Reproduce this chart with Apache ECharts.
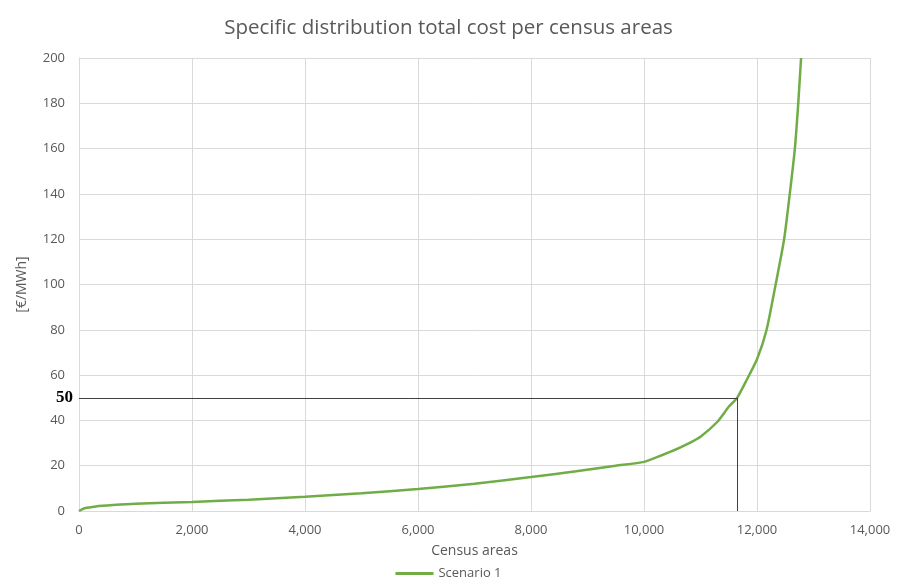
<!DOCTYPE html>
<html><head><meta charset="utf-8">
<script src="https://cdn.jsdelivr.net/npm/echarts@6/dist/echarts.min.js"></script>
<style>html,body{margin:0;padding:0;background:#fff}#c{width:897px;height:585px}</style>
</head><body><div id="c"></div>
<script>
const titleText = 'Specific distribution total cost per census areas';
const seriesName = 'Scenario 1';
const xAxisName = 'Census areas';
const yAxisName = '[€/MWh]';
const censusAreas = [0,100,300,600,1000,2000,3000,4000,5000,6000,7000,8000,8800,9500,10000,10500,10800,11000,11300,11500,11650,11800,12000,12170,12330,12480,12580,12670,12730,12780];
const costValues  = [0,1.2,2.0,2.6,3.2,4.0,5.0,6.3,7.8,9.7,12.0,15.0,17.5,20.0,21.7,26.5,30.0,32.8,39.4,46.0,50.0,57.0,67.0,80.0,100.0,120.0,140.0,160.0,180.0,200.0];
const thresholdCost = 50;
const thresholdArea = 11650;

const chart = echarts.init(document.getElementById('c'));
const font = 'Open Sans';
chart.setOption({
  animation:false,
  title:{text:titleText,left:'center',top:13,textStyle:{fontFamily:font,fontSize:20.5,fontWeight:'normal',color:'#595959'}},
  grid:{left:79,right:27,top:58,bottom:74},
  legend:{bottom:0,left:'center',itemWidth:38,itemHeight:3,icon:'rect',textStyle:{fontFamily:font,fontSize:13,color:'#595959'},data:[seriesName]},
  xAxis:{type:'value',min:0,max:14000,interval:2000,name:xAxisName,nameLocation:'middle',nameGap:33,
    nameTextStyle:{fontFamily:font,fontSize:14,color:'#595959'},
    axisLine:{lineStyle:{color:'#d9d9d9'}},axisTick:{show:false},
    axisLabel:{fontFamily:font,fontSize:13,color:'#595959',margin:13,formatter:v=>v.toLocaleString('en-US')},
    splitLine:{show:true,lineStyle:{color:'#d9d9d9'}}},
  yAxis:{type:'value',min:0,max:200,interval:20,name:yAxisName,nameLocation:'middle',nameGap:50,
    nameTextStyle:{fontFamily:font,fontSize:14,color:'#595959'},
    axisLine:{show:true,lineStyle:{color:'#d9d9d9'}},axisTick:{show:false},
    axisLabel:{fontFamily:font,fontSize:13,color:'#595959',margin:14},
    splitLine:{show:true,lineStyle:{color:'#d9d9d9'}}},
  series:[{name:seriesName,type:'line',smooth:0.2,showSymbol:false,
    data:censusAreas.map((x,i)=>[x,costValues[i]]),
    lineStyle:{color:'#70ad47',width:2.5},itemStyle:{color:'#70ad47'},
    markLine:{silent:true,symbol:'none',
      lineStyle:{color:'#404040',width:1,type:'solid'},
      data:[
        [{coord:[0,thresholdCost],label:{show:true,position:'start',formatter:String(thresholdCost),fontFamily:'Liberation Serif',fontWeight:'bold',fontSize:17,color:'#000',distance:6}},{coord:[thresholdArea,thresholdCost]}],
        [{coord:[thresholdArea,0],label:{show:false}},{coord:[thresholdArea,thresholdCost]}]
      ]}
  }]
});
</script></body></html>
